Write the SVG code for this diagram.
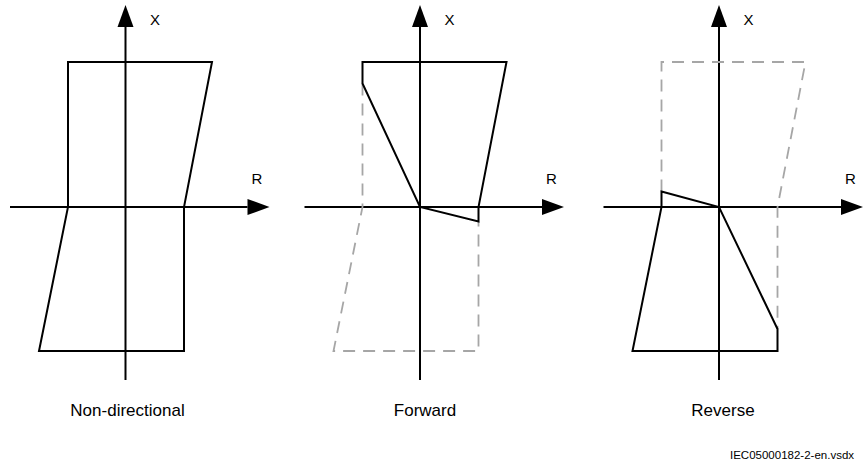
<svg xmlns="http://www.w3.org/2000/svg" width="863" height="466" viewBox="0 0 863 466">
  <style>
    .axis { stroke: #000; stroke-width: 2; fill: none; }
    .solid { stroke: #000; stroke-width: 2; fill: none; stroke-linejoin: miter; }
    .dash { stroke: #a6a6a6; stroke-width: 1.8; fill: none; stroke-dasharray: 12 8; }
    .lbl { font-family: "Liberation Sans", Arial, sans-serif; fill: #000; }
    .ax { font-size: 15px; }
    .cap { font-size: 17px; text-anchor: middle; }
    .foot { font-size: 11.5px; }
  </style>
  <defs>
    <marker id="arrow" markerUnits="userSpaceOnUse" markerWidth="22" markerHeight="16" refX="0" refY="8" orient="auto" overflow="visible">
      <path d="M0,0 L22,8 L0,16 z" fill="#000"/>
    </marker>
    <g id="axes">
      <line class="axis" x1="125.5" y1="380" x2="125.5" y2="27" marker-end="url(#arrow)"/>
      <line class="axis" x1="10" y1="207" x2="247.5" y2="207" marker-end="url(#arrow)"/>
      <text class="lbl ax" x="150" y="25">X</text>
      <text class="lbl ax" x="251.5" y="184">R</text>
    </g>
  </defs>

  <g id="non-directional">
    <use href="#axes"/>
    <polygon class="solid" points="68,62 212,62 184,207 184,351 39,351 68,207"/>
    <text class="lbl cap" x="127.5" y="416">Non-directional</text>
  </g>

  <g id="forward">
    <use href="#axes" transform="translate(294.5,0)"/>
    <polyline class="dash" points="362.5,83.5 362.5,207 333.5,351 478.5,351 478.5,221.5"/>
    <polygon class="solid" points="362.5,83.5 362.5,62 506.5,62 478.5,207 478.5,221.5 420,207"/>
    <text class="lbl cap" x="425" y="416">Forward</text>
  </g>

  <g id="reverse">
    <use href="#axes" transform="translate(593.5,0)"/>
    <polyline class="dash" points="661.5,191.5 661.5,62 805.5,62 777.5,207 777.5,329"/>
    <polygon class="solid" points="661.5,191.5 719,207 777.5,329 777.5,351 632.5,351 661.5,207"/>
    <text class="lbl cap" x="723" y="416">Reverse</text>
  </g>

  <text class="lbl foot" x="730" y="459">IEC05000182-2-en.vsdx</text>
</svg>
